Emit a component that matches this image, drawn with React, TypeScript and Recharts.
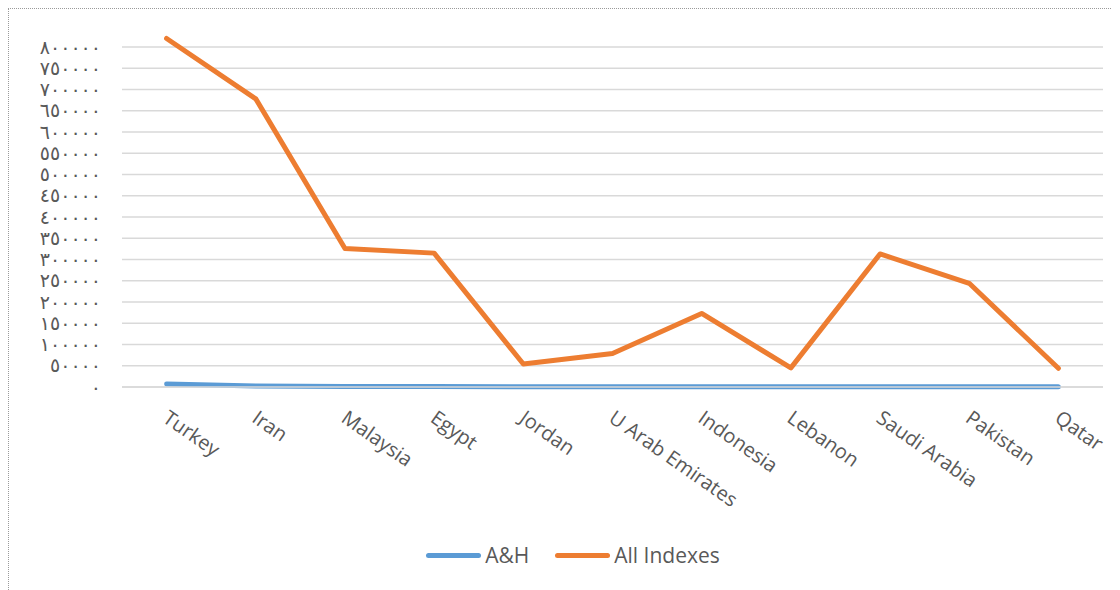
import { LineChart, Line, XAxis, YAxis, Legend, ReferenceLine } from "recharts";

const countries = [
  "Turkey",
  "Iran",
  "Malaysia",
  "Egypt",
  "Jordan",
  "U Arab Emirates",
  "Indonesia",
  "Lebanon",
  "Saudi Arabia",
  "Pakistan",
  "Qatar",
];
const ahValues = [7000, 2500, 1200, 1000, 600, 500, 500, 400, 500, 500, 300];
const allIndexesValues = [
  820000, 678000, 326000, 315000, 54000, 79000, 173000, 45000, 313000, 244000, 44000,
];
const yTicks = [
  0, 50000, 100000, 150000, 200000, 250000, 300000, 350000, 400000, 450000,
  500000, 550000, 600000, 650000, 700000, 750000, 800000,
];

const data = countries.map((name, i) => ({
  name,
  ah: ahValues[i],
  all: allIndexesValues[i],
}));

const arabicDigits = "٠١٢٣٤٥٦٧٨٩";
const toArabic = (v: number) =>
  String(v).replace(/\d/g, (d) => arabicDigits[Number(d)]);

const labelColor = "#595959";
const gridColor = "#d9d9d9";

function CountryTick(props: any) {
  const { x, y, payload } = props;
  return (
    <g transform={`translate(${x - 5},${y + 26})`}>
      <text
        transform="rotate(35)"
        textAnchor="start"
        fill={labelColor}
        fontSize={20}
        fontFamily="'Open Sans', sans-serif"
      >
        {payload.value}
      </text>
    </g>
  );
}

function LegendContent(props: any) {
  const items = props.payload || [];
  return (
    <div
      style={{
        height: 40,
        display: "flex",
        alignItems: "center",
        justifyContent: "center",
        paddingLeft: 34,
        fontFamily: "'Open Sans', sans-serif",
        fontSize: 21,
        color: labelColor,
      }}
    >
      {items.map((it: any, i: number) => (
        <div
          key={it.value}
          style={{ display: "flex", alignItems: "center", marginLeft: i ? 26 : 0 }}
        >
          <span
            style={{
              display: "inline-block",
              width: 55,
              height: 5,
              borderRadius: 3,
              background: it.color,
              marginRight: 4,
            }}
          />
          <span>{it.value}</span>
        </div>
      ))}
    </div>
  );
}

export default function App() {
  return (
    <div
      style={{
        width: 1103,
        height: 600,
        border: "1px dotted #9a9a9a",
        background: "#fff",
      }}
    >
      <LineChart
        width={1103}
        height={590}
        data={data}
        margin={{ top: 16.75, right: 9, left: 0, bottom: 24 }}
      >
        <XAxis
          dataKey="name"
          interval={0}
          height={148}
          padding={{ left: 44.6, right: 44.6 }}
          axisLine={{ stroke: gridColor, strokeWidth: 1.3 }}
          tickLine={false}
          tick={<CountryTick />}
        />
        <YAxis
          width={113}
          domain={[0, 850000]}
          ticks={yTicks}
          interval={0}
          axisLine={false}
          tickLine={false}
          tickMargin={15}
          tickFormatter={toArabic}
          tick={{
            fill: labelColor,
            fontSize: 19,
            fontFamily: "'DejaVu Sans'",
            letterSpacing: 3,
          }}
        />
        {yTicks.map((t) => (
          <ReferenceLine key={t} y={t} stroke={gridColor} strokeWidth={1.3} />
        ))}
        <Legend verticalAlign="bottom" content={<LegendContent />} />
        <Line
          type="linear"
          dataKey="ah"
          name="A&H"
          stroke="#5B9BD5"
          strokeWidth={5}
          strokeLinecap="round"
          strokeLinejoin="round"
          dot={false}
          isAnimationActive={false}
        />
        <Line
          type="linear"
          dataKey="all"
          name="All Indexes"
          stroke="#ED7D31"
          strokeWidth={5}
          strokeLinecap="round"
          strokeLinejoin="round"
          dot={false}
          isAnimationActive={false}
        />
      </LineChart>
    </div>
  );
}
